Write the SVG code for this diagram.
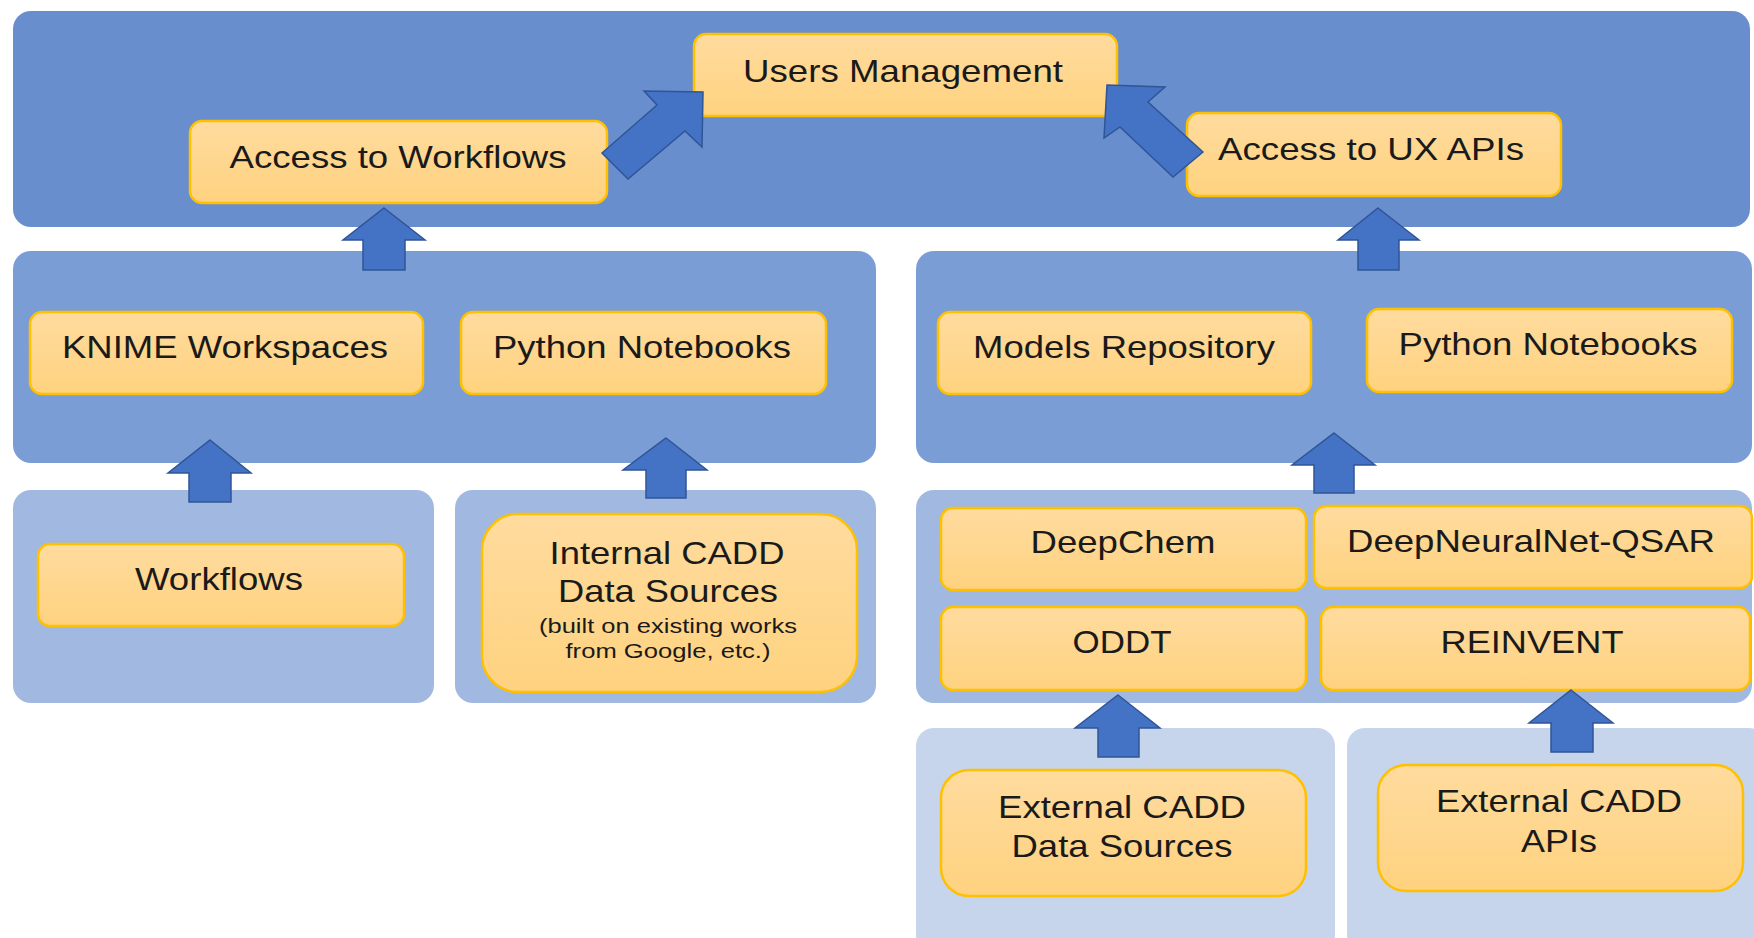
<svg xmlns="http://www.w3.org/2000/svg" width="1754" height="938" viewBox="0 0 1754 938">
<defs>
<linearGradient id="box" x1="0" y1="0" x2="0" y2="1">
<stop offset="0" stop-color="#FFDB9E"/>
<stop offset="1" stop-color="#FED27F"/>
</linearGradient>
<style>
.p1{fill:#698ECE}
.p2{fill:#7B9DD5}
.p3{fill:#A1B8E1}
.p4{fill:#C6D4EC}
.box{fill:url(#box);stroke:#FFC000;stroke-width:2.5}
.arr{fill:#4472C4;stroke:#2F5597;stroke-width:1.5;stroke-linejoin:miter}
text{font-family:"Liberation Sans",Arial,sans-serif;font-size:32px;fill:#1a1a1a;text-anchor:middle}
.sm{font-size:21px}
</style>
</defs>
<rect width="1754" height="938" fill="#ffffff"/>
<g id="panels">
<rect class="p1" x="13" y="11" width="1737" height="216" rx="18"/>
<rect class="p2" x="13" y="251" width="863" height="212" rx="18"/>
<rect class="p2" x="916" y="251" width="836" height="212" rx="18"/>
<rect class="p3" x="13" y="490" width="421" height="213" rx="18"/>
<rect class="p3" x="455" y="490" width="421" height="213" rx="18"/>
<rect class="p3" x="916" y="490" width="836" height="213" rx="18"/>
<rect class="p4" x="916" y="728" width="419" height="225" rx="18"/>
<rect class="p4" x="1347" y="728" width="420" height="225" rx="18"/>
</g>
<g id="users-management">
<rect class="box" x="694" y="34" width="423" height="82" rx="12"/>
<text x="903" y="82" textLength="320" lengthAdjust="spacingAndGlyphs">Users Management</text>
</g>
<g id="access-workflows">
<rect class="box" x="190" y="121" width="417" height="82" rx="12"/>
<text x="398" y="168" textLength="337" lengthAdjust="spacingAndGlyphs">Access to Workflows</text>
</g>
<g id="access-ux-apis">
<rect class="box" x="1187" y="113" width="374" height="83" rx="12"/>
<text x="1371" y="160" textLength="306" lengthAdjust="spacingAndGlyphs">Access to UX APIs</text>
</g>
<g id="knime-workspaces">
<rect class="box" x="30" y="312" width="393" height="82" rx="12"/>
<text x="225" y="358" textLength="326" lengthAdjust="spacingAndGlyphs">KNIME Workspaces</text>
</g>
<g id="python-notebooks-left">
<rect class="box" x="461" y="312" width="365" height="82" rx="12"/>
<text x="642" y="358" textLength="298" lengthAdjust="spacingAndGlyphs">Python Notebooks</text>
</g>
<g id="models-repository">
<rect class="box" x="938" y="312" width="373" height="82" rx="12"/>
<text x="1124" y="358" textLength="302" lengthAdjust="spacingAndGlyphs">Models Repository</text>
</g>
<g id="python-notebooks-right">
<rect class="box" x="1367" y="309" width="365" height="83" rx="12"/>
<text x="1548" y="355" textLength="299" lengthAdjust="spacingAndGlyphs">Python Notebooks</text>
</g>
<g id="workflows">
<rect class="box" x="38" y="544" width="366" height="82" rx="12"/>
<text x="219" y="590" textLength="168" lengthAdjust="spacingAndGlyphs">Workflows</text>
</g>
<g id="internal-cadd">
<rect class="box" x="482" y="514" width="375" height="178" rx="36"/>
<text x="667" y="564" font-size="31" textLength="235" lengthAdjust="spacingAndGlyphs">Internal CADD</text>
<text x="668" y="602" font-size="31" textLength="220" lengthAdjust="spacingAndGlyphs">Data Sources</text>
<text class="sm" x="668" y="633" textLength="258" lengthAdjust="spacingAndGlyphs">(built on existing works</text>
<text class="sm" x="668" y="658" textLength="205" lengthAdjust="spacingAndGlyphs">from Google, etc.)</text>
</g>
<g id="deepchem">
<rect class="box" x="941" y="508" width="365" height="82" rx="12"/>
<text x="1123" y="553" textLength="185" lengthAdjust="spacingAndGlyphs">DeepChem</text>
</g>
<g id="deepneuralnet-qsar">
<rect class="box" x="1314" y="506" width="438" height="82" rx="12"/>
<text x="1531" y="552" textLength="368" lengthAdjust="spacingAndGlyphs">DeepNeuralNet-QSAR</text>
</g>
<g id="oddt">
<rect class="box" x="941" y="607" width="365" height="83" rx="12"/>
<text x="1122" y="653" textLength="99" lengthAdjust="spacingAndGlyphs">ODDT</text>
</g>
<g id="reinvent">
<rect class="box" x="1321" y="607" width="429" height="83" rx="12"/>
<text x="1532" y="653" textLength="183" lengthAdjust="spacingAndGlyphs">REINVENT</text>
</g>
<g id="external-data-sources">
<rect class="box" x="941" y="770" width="365" height="126" rx="28"/>
<text x="1122" y="818" textLength="248" lengthAdjust="spacingAndGlyphs">External CADD</text>
<text x="1122" y="857" textLength="221" lengthAdjust="spacingAndGlyphs">Data Sources</text>
</g>
<g id="external-apis">
<rect class="box" x="1378" y="765" width="365" height="126" rx="28"/>
<text x="1559" y="812" textLength="246" lengthAdjust="spacingAndGlyphs">External CADD</text>
<text x="1559" y="852" textLength="76" lengthAdjust="spacingAndGlyphs">APIs</text>
</g>
<g id="connectors">
<polygon class="arr" points="602,153 657,105 644,91 703,92 702,147 685,131 628,179"/>
<polygon class="arr" points="1203,152 1148,102 1165,87 1107,85 1104,138 1120,127 1173,177"/>
<polygon class="arr" points="384,208 425,240 405,240 405,270 363,270 363,240 343,240"/>
<polygon class="arr" points="1378,208 1419,240 1399,240 1399,270 1358,270 1358,240 1338,240"/>
<polygon class="arr" points="210,440 251,473 231,473 231,502 189,502 189,473 168,473"/>
<polygon class="arr" points="666,438 707,470 686,470 686,498 646,498 646,470 623,470"/>
<polygon class="arr" points="1334,433 1375,465 1354,465 1354,493 1314,493 1314,465 1292,465"/>
<polygon class="arr" points="1118,695 1160,728 1139,728 1139,757 1098,757 1098,728 1075,728"/>
<polygon class="arr" points="1571,690 1613,723 1593,723 1593,752 1551,752 1551,723 1529,723"/>
</g>
</svg>
